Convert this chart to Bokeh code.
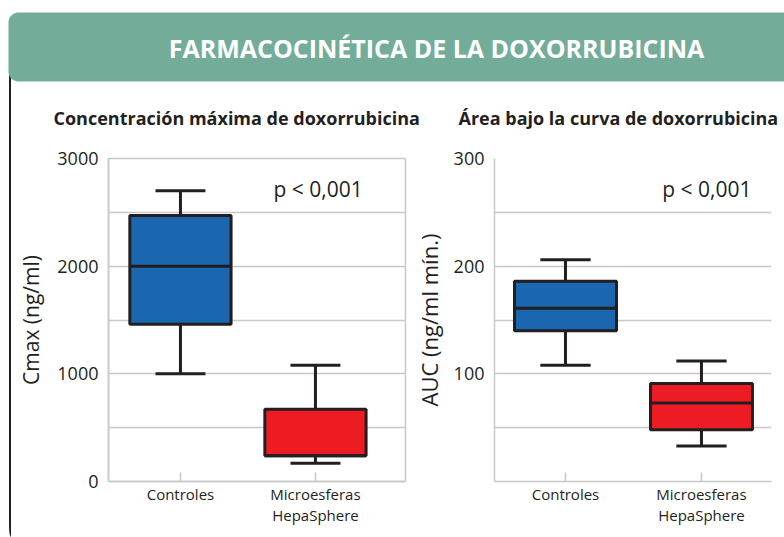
import numpy as np
from bokeh.plotting import figure
from bokeh.layouts import column, row
from bokeh.models import ColumnDataSource, FixedTicker, Range1d, Label, Div
from bokeh.transform import dodge
from bokeh.core.properties import value
from bokeh.embed import file_html
from bokeh.resources import INLINE

# ---------------- data ----------------
categories = ["Controles", "Microesferas\nHepaSphere"]
box_colors = ["#1A67B0", "#ED1C24"]

cmax_low = [1000, 170]
cmax_q1 = [1460, 240]
cmax_med = [2000, 240]
cmax_q3 = [2470, 670]
cmax_high = [2700, 1080]

auc_low = [108, 33]
auc_q1 = [140, 48]
auc_med = [161, 73]
auc_q3 = [186, 91]
auc_high = [206, 112]

cmax_ticks = [0, 1000, 2000, 3000]
cmax_minor = [500, 1500, 2500]
auc_ticks = [100, 200, 300]
auc_minor = [0, 50, 150, 250]

main_title = "FARMACOCINÉTICA DE LA DOXORRUBICINA"
panel_titles = ["Concentración máxima de doxorrubicina", "Área bajo la curva de doxorrubicina"]
y_labels = ["Cmax (ng/ml)", "AUC (ng/ml mín.)"]
p_text = "p < 0,001"

# ---------------- style ----------------
DARK = "#231F20"
GRID = "#C8C8C8"
BAND = "#73AD9A"
FONT = "Open Sans"

PAGE_W, PAGE_H = 784, 537
SIDE_W = 12
HEADER_H = 135
PANEL_H = PAGE_H - HEADER_H


def make_panel(width, xr, yr, low, q1, med, q3, high, ticks, minor, ylabel, ylabel_size,
               label_standoff, ptxt_pos, min_left, min_right, outline):
    p = figure(width=width, height=PANEL_H, x_range=Range1d(*xr), y_range=Range1d(*yr),
               output_backend="svg", toolbar_location=None,
               min_border_left=min_left, min_border_right=min_right,
               min_border_top=23, min_border_bottom=56)
    p.background_fill_color = "white"
    p.border_fill_color = "white"
    p.outline_line_color = GRID if outline else None
    p.outline_line_width = 1.5

    xs = list(range(1, len(categories) + 1))
    src = ColumnDataSource(dict(x=xs, low=low, q1=q1, med=med, q3=q3, high=high,
                                color=box_colors))
    # whiskers
    p.segment(x0="x", y0="q3", x1="x", y1="high", source=src, line_color=DARK, line_width=3)
    p.segment(x0="x", y0="low", x1="x", y1="q1", source=src, line_color=DARK, line_width=3)
    p.segment(x0=dodge("x", -0.185), y0="high", x1=dodge("x", 0.185), y1="high",
              source=src, line_color=DARK, line_width=3)
    p.segment(x0=dodge("x", -0.185), y0="low", x1=dodge("x", 0.185), y1="low",
              source=src, line_color=DARK, line_width=3)
    # boxes
    p.vbar(x="x", width=0.75, bottom="q1", top="q3", source=src, fill_color="color",
           line_color=DARK, line_width=3)
    p.segment(x0=dodge("x", -0.375), y0="med", x1=dodge("x", 0.375), y1="med",
              source=src, line_color=DARK, line_width=3)

    # x axis
    p.xaxis.ticker = FixedTicker(ticks=xs)
    p.xaxis.major_label_overrides = {i + 1: c for i, c in enumerate(categories)}
    p.xaxis.major_tick_in = 9
    p.xaxis.major_tick_out = 0
    p.xaxis.major_tick_line_color = GRID
    p.xaxis.major_tick_line_width = 1.5
    p.xaxis.minor_tick_line_color = None
    p.xaxis.axis_line_color = GRID
    p.xaxis.axis_line_width = 1.5
    p.xaxis.major_label_text_font = FONT
    p.xaxis.major_label_text_font_size = "15px"
    p.xaxis.major_label_text_color = DARK
    p.xaxis.major_label_text_line_height = 1.05
    p.xaxis.major_label_standoff = 2
    p.xgrid.grid_line_color = None

    # y axis
    p.yaxis.ticker = FixedTicker(ticks=ticks, minor_ticks=minor)
    p.yaxis.major_tick_line_color = None
    p.yaxis.minor_tick_line_color = None
    p.yaxis.major_tick_out = 0
    p.yaxis.major_tick_in = 0
    p.yaxis.minor_tick_out = 0
    p.yaxis.axis_line_color = GRID
    p.yaxis.axis_line_width = 1.5
    p.yaxis.major_label_text_font = FONT
    p.yaxis.major_label_text_font_size = "18px"
    p.yaxis.major_label_text_color = DARK
    p.yaxis.major_label_standoff = 10
    p.yaxis.axis_label = ylabel
    p.yaxis.axis_label_text_font = FONT
    p.yaxis.axis_label_text_font_style = "normal"
    p.yaxis.axis_label_text_font_size = ylabel_size
    p.yaxis.axis_label_text_color = DARK
    p.yaxis.axis_label_standoff = label_standoff
    p.ygrid.grid_line_color = GRID
    p.ygrid.grid_line_width = 1.5
    p.ygrid.minor_grid_line_color = GRID
    p.ygrid.minor_grid_line_width = 1.5

    p.add_layout(Label(x=ptxt_pos[0], y=ptxt_pos[1], text=p_text, text_align="center",
                       text_baseline="middle", text_font=FONT, text_font_size="21px",
                       text_color=DARK))
    return p


left = make_panel(398, (0.467, 2.667), (0, 3000), cmax_low, cmax_q1, cmax_med, cmax_q3,
                  cmax_high, cmax_ticks, cmax_minor, y_labels[0], "21px", 9,
                  (2.02, 2720), 96, 5, True)
right = make_panel(374, (0.478, 2.515), (0, 300), auc_low, auc_q1, auc_med, auc_q3,
                   auc_high, auc_ticks, auc_minor, y_labels[1], "22px", 7,
                   (2.04, 272), 84, 13, False)

# ---------------- header ----------------
header = figure(width=PAGE_W, height=HEADER_H, x_range=Range1d(0, PAGE_W),
                y_range=Range1d(HEADER_H, 0), output_backend="svg", toolbar_location=None,
                x_axis_location=None, y_axis_location=None, min_border=0)
header.grid.visible = False
header.outline_line_color = None
header.background_fill_color = "white"
header.border_fill_color = "white"

# left frame line (continues below in the side strip)
header.line(x=[9.5, 9.5], y=[60, HEADER_H + 2], line_color=DARK, line_width=2)

r = 10
a = np.linspace(0, np.pi / 2, 12)
top, bot, x0, x1 = 12, 81, 8, PAGE_W + 20
bx = np.concatenate([[x1], x0 + r - r * np.sin(a), x0 + r - r * np.cos(a), [x1]])
by = np.concatenate([[top], top + r - r * np.cos(a), bot - r + r * np.sin(a), [bot]])
header.patch(x=bx, y=by, fill_color=BAND, line_color=None)

header.text(x=[436], y=[47], text=[main_title], text_align="center",
            text_baseline="middle", text_font=value(FONT), text_font_style="bold",
            text_font_size="25px", text_color="white")
header.text(x=[53, 458], y=[117, 117], text=panel_titles,
            text_align="left", text_baseline="middle", text_font=value(FONT),
            text_font_style="bold", text_font_size="18px", text_color=DARK)

# ---------------- side strip with the frame line ----------------
side = Div(text=('<div style="width:2px;height:%dpx;background-color:%s;'
                 'margin:0;padding:0;border-bottom-left-radius:2px 12px;"></div>')
           % (PANEL_H, DARK),
           width=3, height=PANEL_H, margin=(0, 0, 0, 9))

layout = column(header, row(side, left, right, spacing=0), spacing=0)

open("out.html", "w").write(file_html(layout, INLINE))
